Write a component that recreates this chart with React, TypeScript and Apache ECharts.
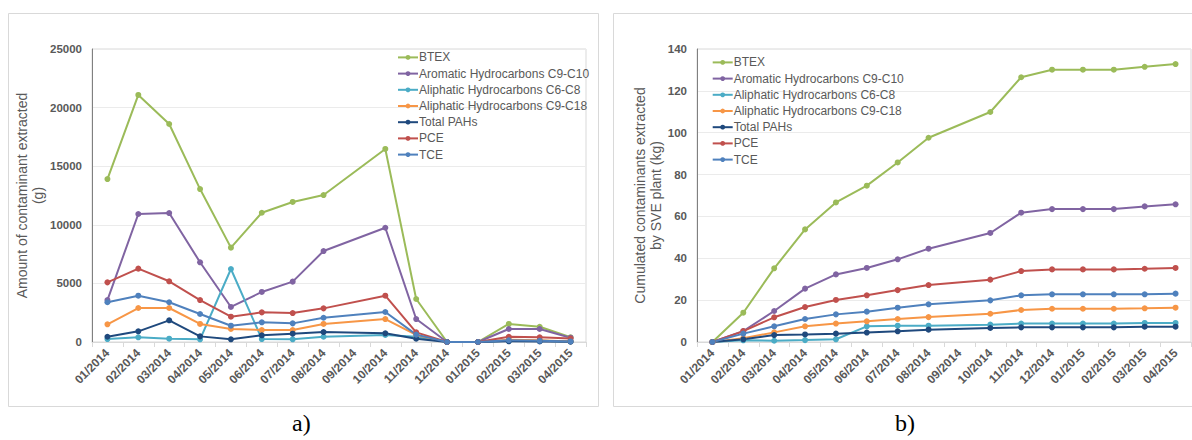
import React, { useEffect, useRef } from "react";
import * as echarts from "echarts";

const categories = [
  "01/2014", "02/2014", "03/2014", "04/2014", "05/2014", "06/2014", "07/2014", "08/2014",
  "09/2014", "10/2014", "11/2014", "12/2014", "01/2015", "02/2015", "03/2015", "04/2015",
];

const seriesNames = [
  "BTEX",
  "Aromatic Hydrocarbons C9-C10",
  "Aliphatic Hydrocarbons C6-C8",
  "Aliphatic Hydrocarbons C9-C18",
  "Total PAHs",
  "PCE",
  "TCE",
];
const seriesColors = ["#9bbb59", "#8064a2", "#4bacc6", "#f79646", "#1f497d", "#c0504d", "#4f81bd"];

// Chart a) monthly amount extracted (g)
const btexA = [13900, 21080, 18600, 13050, 8050, 11030, 11950, 12540, null, 16470, 3670, 0, 0, 1540, 1300, 400];
const aromA = [3580, 10920, 11000, 6800, 2990, 4270, 5150, 7760, null, 9750, 1960, 0, 0, 1110, 1110, 370];
const c6c8A = [250, 400, 280, 230, 6230, 250, 230, 450, null, 600, 450, 0, 0, 100, 100, 50];
const c9c18A = [1510, 2900, 2900, 1540, 1110, 1020, 1020, 1540, null, 1960, 600, 0, 0, 200, 150, 50];
const pahA = [450, 910, 1850, 480, 230, 570, 710, 850, null, 740, 280, 0, 0, 60, 50, 30];
const pceA = [5090, 6260, 5180, 3580, 2160, 2530, 2470, 2870, null, 3950, 820, 0, 0, 450, 400, 300];
const tceA = [3390, 3950, 3390, 2390, 1390, 1680, 1590, 2070, null, 2560, 630, 0, 0, 150, 100, 50];

// Chart b) cumulated amount extracted (kg)
const btexB = [0, 14.0, 35.2, 53.8, 66.7, 74.7, 85.8, 97.6, null, 109.9, 126.5, 130.1, 130.1, 130.1, 131.5, 132.8];
const aromB = [0, 5.2, 14.8, 25.5, 32.3, 35.4, 39.5, 44.6, null, 52.1, 61.8, 63.5, 63.5, 63.5, 64.8, 65.8];
const c6c8B = [0, 0.8, 0.6, 0.9, 1.3, 7.5, 7.8, 7.8, null, 8.3, 8.8, 8.8, 8.8, 8.8, 9.1, 9.1];
const c9c18B = [0, 1.8, 4.6, 7.5, 8.8, 9.9, 11.0, 11.9, null, 13.5, 15.3, 15.9, 15.9, 15.9, 16.1, 16.4];
const pahB = [0, 1.3, 3.3, 3.6, 4.0, 4.5, 5.1, 5.9, null, 6.7, 7.0, 7.0, 7.0, 7.0, 7.3, 7.3];
const pceB = [0, 5.2, 11.8, 16.7, 20.1, 22.3, 24.8, 27.2, null, 29.8, 33.9, 34.7, 34.7, 34.7, 35.0, 35.4];
const tceB = [0, 4.0, 7.5, 11.0, 13.2, 14.5, 16.4, 18.0, null, 19.9, 22.3, 22.8, 22.8, 22.8, 22.8, 23.1];

const yTicksA = { min: 0, max: 25000, interval: 5000 };
const yTicksB = { min: 0, max: 140, interval: 20 };

const dataA = [btexA, aromA, c6c8A, c9c18A, pahA, pceA, tceA];
const dataB = [btexB, aromB, c6c8B, c9c18B, pahB, pceB, tceB];

const FONT = "'Liberation Sans', Arial, sans-serif";
const GREY = "#595959";

function makeXAxis(gridIndex: number) {
  return {
    type: "category",
    gridIndex,
    data: categories,
    boundaryGap: true,
    axisLine: { show: true, lineStyle: { color: "#d9d9d9", width: 1 } },
    axisTick: { show: true, alignWithLabel: false, length: 5, lineStyle: { color: "#d9d9d9" } },
    axisLabel: {
      interval: 0,
      rotate: 45,
      margin: 9,
      color: GREY,
      fontFamily: FONT,
      fontSize: 12,
      fontWeight: "bold",
    },
    splitLine: { show: false },
  };
}

function makeYAxis(gridIndex: number, ticks: any, name: string, nameGap: number) {
  return {
    type: "value",
    gridIndex,
    min: ticks.min,
    max: ticks.max,
    interval: ticks.interval,
    name,
    nameLocation: "middle",
    nameRotate: 90,
    nameGap,
    nameTextStyle: { color: GREY, fontFamily: FONT, fontSize: 14, lineHeight: 16 },
    axisLine: { show: true, lineStyle: { color: "#808080", width: 1 } },
    axisTick: { show: false },
    axisLabel: {
      color: GREY,
      fontFamily: FONT,
      fontSize: 11.5,
      fontWeight: "bold",
      margin: 10,
      formatter: (v: number) => String(v),
    },
    splitLine: { show: true, lineStyle: { color: "#ebebeb", width: 1 } },
  };
}

function makeSeries(data: any[], idx: number) {
  return data.map((d, i) => ({
    type: "line",
    name: seriesNames[i],
    xAxisIndex: idx,
    yAxisIndex: idx,
    data: d,
    connectNulls: true,
    symbol: "circle",
    symbolSize: 6,
    showSymbol: true,
    color: seriesColors[i],
    lineStyle: { width: 2, color: seriesColors[i] },
    itemStyle: { color: seriesColors[i] },
  }));
}

function makeLegend(left: number, top: number) {
  return {
    show: true,
    orient: "vertical",
    left,
    top,
    padding: 0,
    itemGap: 0,
    itemWidth: 20,
    itemHeight: 6,
    data: seriesNames,
    selectedMode: false,
    textStyle: { color: GREY, fontFamily: FONT, fontSize: 12, lineHeight: 16.2, padding: [0, 0, 0, -4] },
  };
}

export default function App() {
  const ref = useRef<HTMLDivElement>(null);
  useEffect(() => {
    if (!ref.current) return;
    const chart = echarts.init(ref.current, null, { renderer: "svg" });
    chart.setOption({
      animation: false,
      backgroundColor: "#ffffff",
      grid: [
        { left: 92, top: 49, width: 494, height: 293, show: true, borderColor: "#d9d9d9", borderWidth: 1 },
        { left: 697, top: 49, width: 494, height: 293, show: true, borderColor: "#d9d9d9", borderWidth: 1 },
      ],
      xAxis: [makeXAxis(0), makeXAxis(1)],
      yAxis: [
        makeYAxis(0, yTicksA, "Amount of contaminant extracted\n(g)", 44),
        makeYAxis(1, yTicksB, "Cumulated contaminants extracted\nby SVE plant (kg)", 30),
      ],
      legend: [makeLegend(397, 49.3), makeLegend(711.7, 54.3)],
      series: [...makeSeries(dataA, 0), ...makeSeries(dataB, 1)],
      graphic: [
        {
          type: "rect",
          silent: true,
          z: -10,
          shape: { x: 8.5, y: 13.5, width: 590, height: 393 },
          style: { fill: "none", stroke: "#d9d9d9", lineWidth: 1 },
        },
        {
          type: "rect",
          silent: true,
          z: -10,
          shape: { x: 613.5, y: 13.5, width: 600, height: 393 },
          style: { fill: "none", stroke: "#d9d9d9", lineWidth: 1 },
        },
        {
          type: "text",
          left: 292,
          top: 411,
          style: { text: "a)", fill: "#000", font: "24px 'Liberation Serif', 'Times New Roman', serif" },
        },
        {
          type: "text",
          left: 895,
          top: 411,
          style: { text: "b)", fill: "#000", font: "24px 'Liberation Serif', 'Times New Roman', serif" },
        },
      ],
    });
    return () => chart.dispose();
  }, []);
  return (
    <div
      ref={ref}
      style={{ position: "fixed", left: 0, top: 0, width: 1192, height: 440, background: "#fff" }}
    />
  );
}
